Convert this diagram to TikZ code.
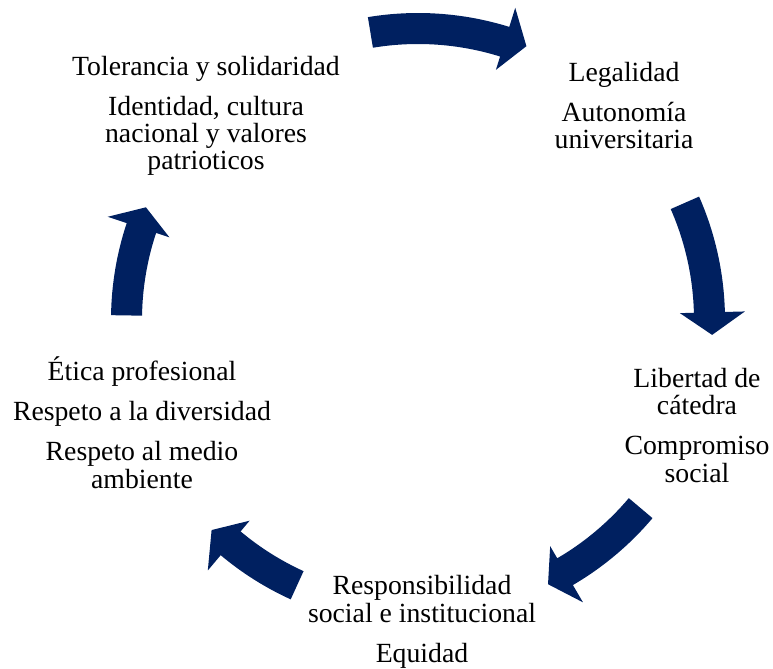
\documentclass[tikz,border=0pt]{standalone}
\usepackage{fontspec}
\setmainfont{Liberation Serif}
\usepackage{xcolor}
\usepackage{tikz}
\usetikzlibrary{calc}
\definecolor{cycleblue}{RGB}{0,32,96}

\begin{document}
\begin{tikzpicture}[x=0.75pt,y=0.75pt,
  valuetext/.style={align=center,anchor=base,inner sep=0pt,
    font=\fontsize{20.8}{20.6}\selectfont}]
\useasboundingbox (0,0) rectangle (773,668);
\coordinate (hub) at (418,348);
% curved block arrows: tail angle / head base angle / tip angle
\begin{scope}[shift={(hub)}]
\foreach \ta/\tb/\tt in {99.4/72.7/68.4, 23.7/1.5/-2.9, -40.2/-59.7/-63.8,
    245.5/230/225.5, 179.1/161.6/157.5}
  \fill[cycleblue] (\ta:307) arc[start angle=\ta,end angle=\tb,radius=307]
    -- (\tb:327) -- (\tt:294.5) -- (\tb:262) -- (\tb:276)
    arc[start angle=\tb,end angle=\ta,radius=276] -- cycle;
\end{scope}
% values (anchored at the last line)
\node[valuetext] (tolerancia) at (206,498) {Tolerancia y solidaridad\\[9.4pt]
  Identidad, cultura\\nacional y valores\\patrioticos};
\node[valuetext] (legalidad) at (624,519) {Legalidad\\[9.4pt]
  Autonomía\\universitaria};
\node[valuetext] (libertad) at (697,186) {Libertad de\\cátedra\\[9.4pt]
  Compromiso\\social};
\node[valuetext] (responsabilidad) at (422,6) {Responsibilidad\\social e institucional\\[9.4pt]
  Equidad};
\node[valuetext] (etica) at (142,180) {Ética profesional\\[9.4pt]
  Respeto a la diversidad\\[9.4pt]Respeto al medio\\ambiente};
\end{tikzpicture}
\end{document}
